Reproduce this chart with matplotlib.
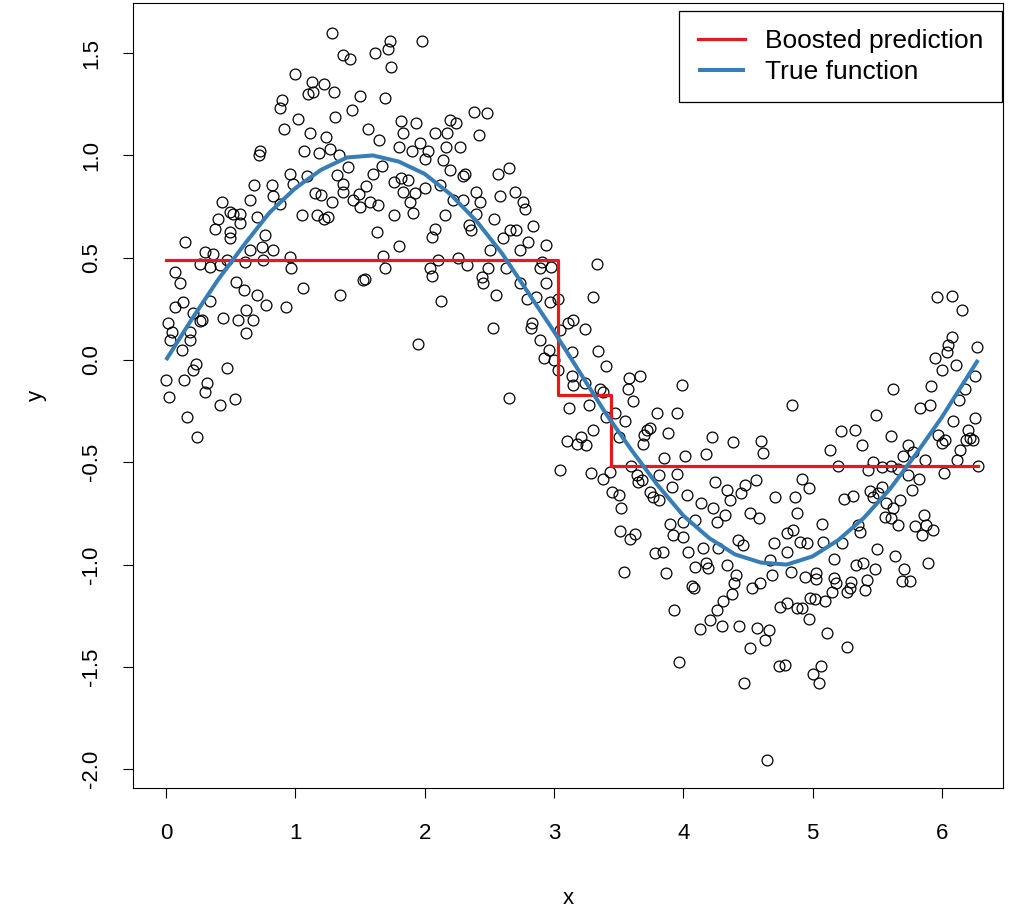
import numpy as np
import matplotlib.pyplot as plt

plt.rcParams['font.family'] = ['Liberation Sans', 'DejaVu Sans']

pts_rise = [
    (1.28, 1.60), (1.37, 1.49), (1.42, 1.47), (1.00, 1.40), (1.13, 1.36), (1.22, 1.35),
    (1.30, 1.31), (1.10, 1.30), (1.14, 1.31), (1.50, 1.29), (0.895, 1.27), (0.88, 1.23),
    (1.44, 1.22), (1.02, 1.18), (1.31, 1.19), (0.91, 1.13), (1.11, 1.11), (1.24, 1.09),
    (0.73, 1.02), (0.72, 1.00), (1.07, 1.02), (1.18, 1.01), (1.27, 1.03), (1.34, 1.00),
    (1.41, 0.945), (0.96, 0.91), (1.09, 0.90), (1.32, 0.905), (0.68, 0.855), (0.82, 0.855),
    (0.985, 0.86), (1.37, 0.86), (0.65, 0.78), (0.83, 0.80), (1.15, 0.815), (1.20, 0.805),
    (1.28, 0.77), (1.37, 0.82), (1.45, 0.78), (1.49, 0.81), (1.50, 0.75), (0.43, 0.77),
    (0.88, 0.765), (0.495, 0.725), (0.57, 0.715), (0.52, 0.715), (0.405, 0.69), (0.70, 0.70),
    (0.57, 0.67), (1.05, 0.71), (1.165, 0.71), (1.22, 0.69), (1.255, 0.70), (0.38, 0.64),
    (0.495, 0.627), (0.495, 0.595), (0.765, 0.61), (0.147, 0.578), (0.65, 0.54), (0.74, 0.55),
    (0.83, 0.54), (0.30, 0.53), (0.365, 0.52), (0.96, 0.505), (0.26, 0.47), (0.34, 0.456),
    (0.42, 0.464), (0.47, 0.49), (0.61, 0.48), (0.75, 0.49), (0.97, 0.45), (0.07, 0.43),
    (0.11, 0.375), (0.54, 0.38), (0.60, 0.34), (0.70, 0.32), (0.77, 0.27), (1.06, 0.35),
    (1.345, 0.32), (0.93, 0.26), (0.134, 0.285), (0.07, 0.26), (0.34, 0.29), (0.21, 0.23),
    (0.276, 0.195), (0.26, 0.19), (0.44, 0.207), (0.56, 0.195), (0.62, 0.245), (0.675, 0.195),
    (0.62, 0.133), (0.018, 0.18), (0.044, 0.138), (0.03, 0.098), (0.185, 0.138), (0.185, 0.098),
    (0.12, 0.049), (0.23, -0.02), (0.21, -0.05), (0.475, -0.04), (0.0, -0.098), (0.14, -0.10),
    (0.315, -0.114), (0.30, -0.158), (0.026, -0.18), (0.53, -0.19), (0.42, -0.22),
    (0.165, -0.277), (0.24, -0.378), (1.525, 0.39),
]

pts_peak = [
    (1.73, 1.56), (1.72, 1.52), (1.62, 1.50), (1.98, 1.56), (1.74, 1.43), (1.69, 1.28),
    (2.38, 1.21), (2.48, 1.205), (1.82, 1.17), (1.93, 1.16), (2.20, 1.175), (2.24, 1.157),
    (1.565, 1.13), (1.835, 1.11), (2.08, 1.11), (2.175, 1.11), (2.42, 1.10), (1.65, 1.075),
    (1.965, 1.06), (2.03, 1.02), (1.90, 1.02), (1.80, 1.04), (2.165, 1.04), (2.27, 1.04),
    (2.00, 0.985), (2.145, 0.98), (2.20, 0.93), (1.67, 0.95), (1.60, 0.91), (2.65, 0.94),
    (2.57, 0.91), (2.31, 0.91), (2.30, 0.90), (1.76, 0.87), (1.82, 0.89), (1.87, 0.88),
    (1.55, 0.85), (1.58, 0.77), (1.64, 0.76), (1.835, 0.82), (1.925, 0.815), (2.00, 0.84),
    (1.89, 0.77), (2.12, 0.855), (2.40, 0.82), (2.43, 0.77), (2.70, 0.82), (2.58, 0.80),
    (2.76, 0.77), (2.78, 0.74), (2.22, 0.78), (2.30, 0.78), (1.76, 0.71), (1.91, 0.72),
    (2.16, 0.71), (2.40, 0.715), (2.54, 0.69), (2.34, 0.66), (2.36, 0.635), (2.84, 0.655),
    (2.66, 0.635), (2.71, 0.635), (1.63, 0.627), (2.08, 0.64), (2.055, 0.60), (2.61, 0.595),
    (2.80, 0.578), (2.94, 0.56), (1.80, 0.555), (2.505, 0.54), (2.74, 0.54), (1.68, 0.51),
    (2.105, 0.49), (2.26, 0.497), (2.325, 0.464), (1.69, 0.45), (2.04, 0.45), (2.49, 0.45),
    (2.63, 0.45), (2.905, 0.48), (2.89, 0.45), (2.98, 0.455), (3.33, 0.47),
]

pts_fall = [
    (1.54, 0.395), (2.055, 0.41), (2.13, 0.29), (2.45, 0.378), (2.44, 0.407), (2.55, 0.318),
    (2.74, 0.375), (2.79, 0.30), (2.865, 0.31), (2.94, 0.375), (2.97, 0.285), (3.03, 0.30),
    (2.53, 0.155), (1.95, 0.08), (2.83, 0.18), (2.82, 0.155), (2.89, 0.098), (2.96, 0.05),
    (2.92, 0.008), (3.0, 0.0), (3.035, -0.05), (3.14, -0.08), (3.15, -0.12), (3.11, 0.18),
    (3.15, 0.195), (3.05, 0.147), (2.655, -0.184), (3.12, -0.236), (3.10, -0.394), (3.05, -0.54),
    (3.30, 0.31), (3.24, 0.15), (3.34, 0.044), (3.40, -0.03), (3.14, 0.04), (3.24, -0.11),
    (3.58, -0.09), (3.665, -0.08), (3.57, -0.14), (3.99, -0.12), (3.36, -0.14), (3.38, -0.155),
    (3.61, -0.20), (3.27, -0.22), (3.47, -0.26), (3.55, -0.30), (3.40, -0.277), (3.80, -0.26),
    (3.955, -0.26), (3.72, -0.34), (3.70, -0.367), (3.69, -0.41), (3.74, -0.334), (3.88, -0.355),
    (3.30, -0.34), (3.21, -0.375), (3.25, -0.415), (3.18, -0.41), (3.50, -0.375), (4.22, -0.375),
    (4.385, -0.40), (4.605, -0.394), (4.62, -0.456), (3.85, -0.48), (4.01, -0.47), (4.18, -0.46),
    (3.29, -0.55), (3.38, -0.58), (3.43, -0.546), (3.60, -0.52), (3.64, -0.56), (3.65, -0.595),
    (3.68, -0.587), (3.815, -0.56), (3.95, -0.557), (3.91, -0.62), (4.245, -0.595), (4.34, -0.635),
    (4.36, -0.684), (4.48, -0.61), (4.565, -0.587), (4.45, -0.65), (4.71, -0.668), (3.45, -0.647),
    (3.50, -0.66), (3.74, -0.643), (3.77, -0.668), (3.81, -0.684), (4.03, -0.66), (4.14, -0.70),
    (4.23, -0.725), (3.52, -0.725), (4.52, -0.75), (4.59, -0.774), (4.32, -0.757), (3.90, -0.80),
    (4.0, -0.79), (4.09, -0.78), (4.26, -0.79),
]

pts_trough = [
    (3.51, -0.835), (3.59, -0.877), (3.63, -0.85), (3.92, -0.855), (4.0, -0.864), (3.78, -0.945),
    (3.845, -0.937), (4.04, -0.937), (4.155, -0.92), (4.27, -0.92), (3.54, -1.035), (3.87, -1.043),
    (4.09, -1.01), (4.18, -0.994), (4.19, -1.018), (4.34, -1.0), (4.41, -1.05), (4.39, -1.09),
    (4.375, -1.144), (4.07, -1.107), (4.08, -1.116), (4.425, -0.88), (4.465, -0.904), (4.53, -1.116),
    (4.595, -1.09), (4.67, -0.977), (4.70, -0.896), (4.685, -1.05), (3.93, -1.22), (4.31, -1.18),
    (4.26, -1.22), (4.21, -1.27), (4.13, -1.316), (4.30, -1.30), (4.435, -1.30), (4.57, -1.31),
    (4.66, -1.32), (4.63, -1.37), (4.52, -1.406), (4.75, -1.206), (4.74, -1.494), (3.97, -1.475),
    (4.47, -1.58), (4.65, -1.955),
    (5.355, -0.806), (5.37, -0.839), (5.66, -0.806), (5.79, -0.81), (5.845, -0.855), (5.88, -0.806),
    (5.93, -0.83), (4.80, -0.847), (4.85, -0.83), (4.90, -0.888), (4.955, -0.896), (5.08, -0.888),
    (5.225, -0.896), (4.80, -0.937), (5.17, -0.974), (5.50, -0.925), (5.64, -0.958), (5.89, -0.99),
    (5.34, -1.0), (5.39, -0.99), (5.48, -1.023), (5.71, -1.023), (5.69, -1.08), (5.755, -1.08),
    (4.83, -1.035), (4.94, -1.06), (5.03, -1.043), (5.03, -1.07), (5.17, -1.067), (5.185, -1.09),
    (5.30, -1.084), (5.29, -1.116), (5.265, -1.133), (5.405, -1.124), (5.42, -1.075), (5.15, -1.133),
    (4.98, -1.165), (5.02, -1.17), (5.10, -1.177), (4.80, -1.19), (4.88, -1.214), (4.92, -1.214),
    (4.97, -1.266), (5.11, -1.336), (5.265, -1.404), (4.79, -1.49), (5.065, -1.494), (5.00, -1.535),
    (5.05, -1.577),
]

pts_right = [
    (5.96, 0.31), (6.075, 0.313), (6.16, 0.245), (6.075, 0.114), (6.05, 0.073), (6.04, 0.04),
    (6.27, 0.062), (5.95, 0.008), (6.0, -0.05), (6.11, -0.024), (6.26, -0.08), (6.18, -0.14),
    (5.92, -0.127), (6.13, -0.196), (5.62, -0.14), (4.84, -0.22), (5.91, -0.22), (5.83, -0.236),
    (5.49, -0.27), (6.09, -0.30), (6.26, -0.285), (5.22, -0.345), (5.33, -0.34), (5.61, -0.37),
    (6.205, -0.342), (6.22, -0.383), (6.19, -0.39), (6.24, -0.39), (5.97, -0.367), (6.0, -0.407),
    (6.025, -0.39), (5.38, -0.415), (5.135, -0.44), (5.74, -0.415), (5.70, -0.47), (5.78, -0.45),
    (6.14, -0.44), (6.12, -0.49), (5.87, -0.49), (5.20, -0.52), (5.47, -0.50), (5.43, -0.54),
    (5.535, -0.525), (5.61, -0.52), (5.66, -0.535), (5.74, -0.56), (5.82, -0.583), (5.77, -0.635),
    (6.02, -0.55), (6.28, -0.52), (4.92, -0.583), (4.97, -0.627), (4.865, -0.67), (5.24, -0.68),
    (5.315, -0.665), (5.445, -0.64), (5.47, -0.668), (5.535, -0.62), (5.51, -0.65), (5.68, -0.684),
    (5.625, -0.725), (5.57, -0.70), (5.56, -0.766), (5.61, -0.774), (5.86, -0.757), (4.88, -0.746),
    (5.07, -0.80),
]

# true function (blue curve), read at regular x steps
true_x = [0.0, 0.2, 0.4, 0.6, 0.8, 1.0, 1.2, 1.4, 1.6, 1.8, 2.0, 2.2, 2.4, 2.6, 2.8, 3.0,
          3.2, 3.4, 3.6, 3.8, 4.0, 4.2, 4.4, 4.6, 4.8, 5.0, 5.2, 5.4, 5.6, 5.8, 6.0, 6.2, 6.28]
true_y = [0.0, 0.20, 0.39, 0.56, 0.72, 0.84, 0.93, 0.99, 1.00, 0.97, 0.91, 0.81, 0.68, 0.52,
          0.33, 0.14, -0.06, -0.26, -0.44, -0.61, -0.76, -0.87, -0.95, -0.99, -1.00, -0.96,
          -0.88, -0.77, -0.63, -0.46, -0.28, -0.08, 0.0]

# boosted prediction (step function)
step_x = [0.0, 3.03, 3.44, 6.28]
step_y = [0.49, -0.17, -0.52, -0.52]

pts = pts_rise + pts_peak + pts_fall + pts_trough + pts_right
obs_x = [p[0] for p in pts]
obs_y = [p[1] for p in pts]

fig = plt.figure(figsize=(10.25, 9.15), dpi=100)
ax = fig.add_axes([0.1298, 0.1388, 0.8487, 0.8579])

ax.plot(obs_x, obs_y, 'o', mfc='none', mec='black', ms=7.8, mew=0.9, zorder=1)
ax.step(step_x, step_y, where='post', color='#E41A1C', lw=2.3, label='Boosted prediction', zorder=2)
ax.plot(true_x, true_y, color='#377EB8', lw=2.9, label='True function', zorder=3,
        solid_capstyle='butt')

ax.set_xlim(-0.255, 6.473)
ax.set_ylim(-2.092, 1.745)
ax.set_xticks(range(7))
yt = np.arange(-2.0, 1.51, 0.5)
ax.set_yticks(yt)
ax.set_yticklabels(['%.1f' % v for v in yt], rotation=90, va='center')
ax.tick_params(length=7, width=0.8, labelsize=16, colors='black')
ax.tick_params(axis='x', pad=18)
ax.tick_params(axis='y', pad=15)
for s in ax.spines.values():
    s.set_linewidth(0.8)

ax.set_xlabel('x', fontsize=16, labelpad=32)
ax.set_ylabel('y', fontsize=16, labelpad=25)

leg = ax.legend(loc='upper right', bbox_to_anchor=(0.9989, 0.9898), borderaxespad=0,
                fontsize=19, fancybox=False, framealpha=1, edgecolor='black',
                handlelength=1.8, handletextpad=0.75, labelspacing=0.24,
                borderpad=0.7)
leg.get_frame().set_linewidth(0.9)

fig.savefig('out.png', dpi=100)
